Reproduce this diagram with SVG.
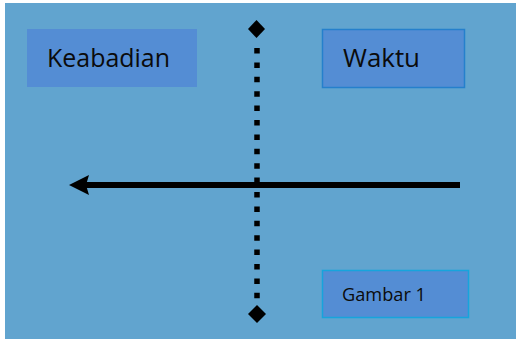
<svg xmlns="http://www.w3.org/2000/svg" width="516" height="339" viewBox="0 0 516 339">
  <style>
    .box { fill: #548dd4; }
    .label { font-family: "Open Sans", "Liberation Sans", sans-serif; fill: #0b0b0b; }
    .axis { stroke: #000; stroke-width: 5.5; stroke-dasharray: 5.5 8.9; fill: none; }
    .timeline { stroke: #000; stroke-width: 6; fill: none; }
  </style>
  <defs>
    <marker id="arrowHead" viewBox="0 0 20 20" refX="3" refY="10" markerUnits="userSpaceOnUse" markerWidth="20" markerHeight="20" orient="auto">
      <path d="M0,0 L20,10 L0,20 L3,10 Z" fill="#000"/>
    </marker>
  </defs>

  <!-- canvas -->
  <rect x="0" y="0" width="516" height="339" fill="#ffffff"/>
  <rect x="5" y="3" width="511" height="336" fill="#61a4cf"/>

  <g id="node-keabadian">
    <rect class="box" x="27" y="29" width="170" height="58"/>
    <text class="label" x="47" y="67" font-size="25.5" textLength="123" lengthAdjust="spacingAndGlyphs">Keabadian</text>
  </g>

  <g id="node-waktu">
    <rect class="box" x="322.5" y="29.5" width="142" height="58" stroke="#2580cc" stroke-width="1.5"/>
    <text class="label" x="343" y="67" font-size="25.5" textLength="77" lengthAdjust="spacingAndGlyphs">Waktu</text>
  </g>

  <g id="node-gambar1">
    <rect class="box" x="322.5" y="270.5" width="146" height="47" stroke="#17a4dc" stroke-width="1.5"/>
    <text class="label" x="342" y="301" font-size="18.5" textLength="84" lengthAdjust="spacingAndGlyphs">Gambar 1</text>
  </g>

  <g id="connectors">
    <!-- vertical dotted divider with diamond ends -->
    <line class="axis" x1="257" y1="48" x2="257" y2="299"/>
    <polygon points="256.5,20 265,29 256.5,38 248,29" fill="#000"/>
    <polygon points="257,305 266,314 257,323 248,314" fill="#000"/>
    <!-- horizontal timeline arrow pointing left -->
    <line class="timeline" x1="460" y1="185" x2="86" y2="185" marker-end="url(#arrowHead)"/>
  </g>
</svg>
